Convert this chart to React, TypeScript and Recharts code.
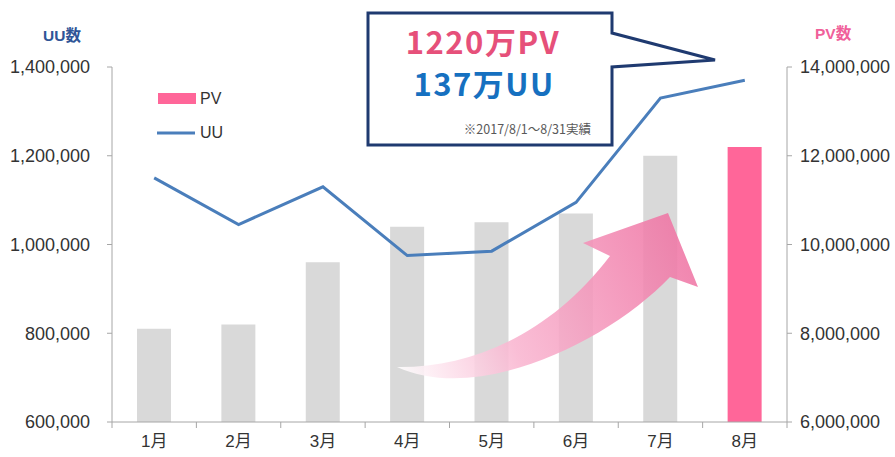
import { ComposedChart, Bar, Line, XAxis, YAxis, Legend, Cell } from 'recharts';

const months = ['1月', '2月', '3月', '4月', '5月', '6月', '7月', '8月'];
const uuValues = [1150000, 1045000, 1130000, 975000, 985000, 1095000, 1330000, 1370000];
const pvValues = [8100000, 8200000, 9600000, 10400000, 10500000, 10700000, 12000000, 12200000];
const uuTicks = [600000, 800000, 1000000, 1200000, 1400000];
const pvTicks = [6000000, 8000000, 10000000, 12000000, 14000000];

const data = months.map((month, i) => ({ month, UU: uuValues[i], PV: pvValues[i] }));

const W = 895;
const H = 457;
const LEFT_W = 112;
const RIGHT_W = 108;
const HALF_BAND = (W - LEFT_W - RIGHT_W) / months.length / 2;

const font = '"Liberation Sans", "Noto Sans CJK JP", sans-serif';
const fmt = (v: number) => v.toLocaleString('en-US');

const MonthTick = (props: any) => {
  const { x, y, payload, index } = props;
  return (
    <g>
      <line x1={x - HALF_BAND} y1={y} x2={x - HALF_BAND} y2={y + 6} stroke="#a6a6a6" />
      {index === months.length - 1 && (
        <line x1={x + HALF_BAND} y1={y} x2={x + HALF_BAND} y2={y + 6} stroke="#a6a6a6" />
      )}
      <text x={x} y={y + 19} textAnchor="middle" dominantBaseline="central" fontSize={17} fill="#333" fontFamily={font}>
        {payload.value}
      </text>
    </g>
  );
};

const LegendBox = () => (
  <svg width={120} height={60} style={{ fontFamily: font }}>
    <rect x={3} y={8} width={38} height={11} fill="#ff6699" />
    <text x={45} y={13} fontSize={16} fill="#333" dominantBaseline="central">PV</text>
    <line x1={2} y1={48} x2={40} y2={48} stroke="#4a7ebb" strokeWidth={3} />
    <text x={45} y={47} fontSize={16} fill="#333" dominantBaseline="central">UU</text>
  </svg>
);

export default function App() {
  return (
    <div style={{ position: 'absolute', left: 0, top: 0, width: W, height: H, background: '#fff' }}>
      <ComposedChart width={W} height={H} data={data} margin={{ top: 67, right: 0, left: 0, bottom: 0 }}>
        <XAxis
          dataKey="month"
          height={35}
          axisLine={{ stroke: '#a6a6a6' }}
          tickLine={false}
          tickSize={0}
          tickMargin={0}
          tick={<MonthTick />}
          interval={0}
        />
        <YAxis
          yAxisId="uu"
          width={LEFT_W}
          domain={[600000, 1400000]}
          ticks={uuTicks}
          tickFormatter={fmt}
          axisLine={{ stroke: '#a6a6a6' }}
          tickLine={{ stroke: '#a6a6a6' }}
          tickSize={5}
          tickMargin={17}
          tick={{ fontSize: 18, fill: '#333', fontFamily: font }}
        />
        <YAxis
          yAxisId="pv"
          orientation="right"
          width={RIGHT_W}
          domain={[6000000, 14000000]}
          ticks={pvTicks}
          tickFormatter={fmt}
          axisLine={{ stroke: '#a6a6a6' }}
          tickLine={{ stroke: '#a6a6a6' }}
          tickSize={5}
          tickMargin={8}
          tick={{ fontSize: 18, fill: '#333', fontFamily: font, textAnchor: 'start' }}
        />
        <Legend
          layout="vertical"
          align="center"
          verticalAlign="middle"
          wrapperStyle={{ top: 85, left: 155, width: 120, height: 60 }}
          content={() => <LegendBox />}
        />
        <Bar yAxisId="pv" dataKey="PV" barSize={34} isAnimationActive={false}>
          {data.map((d, i) => (
            <Cell key={d.month} fill={i === data.length - 1 ? '#ff6699' : '#d9d9d9'} />
          ))}
        </Bar>
        <Line
          yAxisId="uu"
          dataKey="UU"
          stroke="#4a7ebb"
          strokeWidth={3}
          dot={false}
          activeDot={false}
          isAnimationActive={false}
        />
      </ComposedChart>

      <svg
        width={W}
        height={H}
        style={{ position: 'absolute', left: 0, top: 0, pointerEvents: 'none', fontFamily: font }}
      >
        <defs>
          <linearGradient id="arrowFill" gradientUnits="userSpaceOnUse" x1={397} y1={370} x2={700} y2={230}>
            <stop offset="0" stopColor="#ffffff" />
            <stop offset="0.35" stopColor="#f9b5d0" />
            <stop offset="1" stopColor="#ee6fa0" />
          </linearGradient>
        </defs>
        {/* axis titles */}
        <text x={43} y={35} fontSize={15.5} fontWeight="bold" fill="#2f5597" dominantBaseline="central">UU数</text>
        <text x={815} y={33} fontSize={15.5} fontWeight="bold" fill="#f0609a" dominantBaseline="central">PV数</text>

        {/* growth arrow */}
        <path
          d="M397,367 C470,368 550,335 610,256 L583,243 L668,213 L698,287 L670,277 C610,340 480,405 397,367 Z"
          fill="url(#arrowFill)"
          opacity={0.88}
        />

        {/* callout */}
        <path
          d="M368,13 H612 V33 L715,60 L612,67 V145 H368 Z"
          fill="#fff"
          stroke="#1f3a70"
          strokeWidth={3}
          strokeLinejoin="miter"
        />
        <text x={483} y={54} textAnchor="middle" fontSize={31} fontWeight="bold" fill="#e6507a" letterSpacing={1.5}
          fontFamily='"Noto Sans CJK JP", sans-serif'>
          1220万PV
        </text>
        <text x={484} y={96} textAnchor="middle" fontSize={31} fontWeight="bold" fill="#1670c0" letterSpacing={1.5}
          fontFamily='"Noto Sans CJK JP", sans-serif'>
          137万UU
        </text>
        <text x={591} y={128} textAnchor="end" fontSize={12.5} fill="#595959" dominantBaseline="central"
          fontFamily='"Noto Sans CJK JP", sans-serif'>
          ※2017/8/1～8/31実績
        </text>
      </svg>
    </div>
  );
}
